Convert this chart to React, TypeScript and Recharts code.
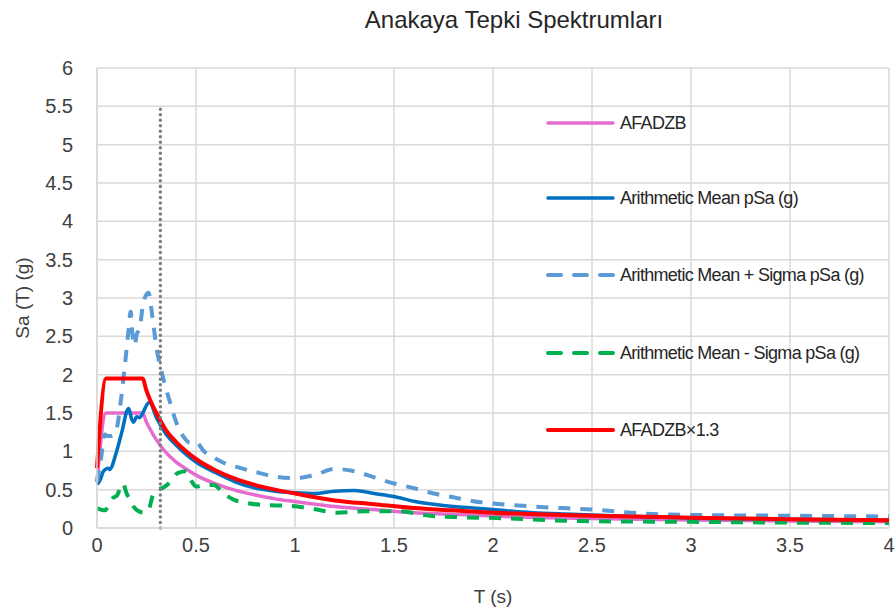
import { LineChart, Line, XAxis, YAxis, CartesianGrid, ReferenceLine } from "recharts";

// periods (s) and spectral accelerations (g)
const afadT = [0, 0.046, 0.23, 0.25, 0.27, 0.3, 0.35, 0.4, 0.45, 0.5, 0.6, 0.7, 0.8, 0.9, 1.0, 1.2, 1.4, 1.6, 1.8, 2.0, 2.5, 3.0, 3.5, 4.0];
const afadSa = [0.6, 1.5, 1.5, 1.38, 1.28, 1.15, 0.98, 0.86, 0.77, 0.69, 0.575, 0.49, 0.43, 0.38, 0.345, 0.28, 0.24, 0.2, 0.18, 0.155, 0.125, 0.105, 0.09, 0.08];
const afad13Sa = [0.78, 1.95, 1.95, 1.79, 1.66, 1.5, 1.27, 1.12, 1.0, 0.9, 0.75, 0.64, 0.56, 0.5, 0.45, 0.36, 0.31, 0.26, 0.23, 0.2, 0.16, 0.135, 0.115, 0.1];

const meanT = [0, 0.01, 0.02, 0.03, 0.04, 0.055, 0.065, 0.075, 0.09, 0.11, 0.13, 0.15, 0.16, 0.175, 0.185, 0.2, 0.215, 0.235, 0.25, 0.265, 0.3, 0.35, 0.4, 0.45, 0.5, 0.6, 0.7, 0.8, 0.9, 1.0, 1.1, 1.2, 1.3, 1.4, 1.5, 1.6, 1.7, 1.8, 1.9, 2.0, 2.2, 2.4, 2.6, 2.8, 3.0, 3.5, 4.0];
const meanSa = [0.57, 0.6, 0.65, 0.73, 0.76, 0.78, 0.76, 0.8, 0.92, 1.1, 1.3, 1.52, 1.56, 1.42, 1.38, 1.45, 1.44, 1.52, 1.6, 1.64, 1.44, 1.22, 1.08, 0.96, 0.86, 0.72, 0.6, 0.52, 0.48, 0.46, 0.45, 0.48, 0.49, 0.45, 0.41, 0.35, 0.31, 0.28, 0.26, 0.24, 0.2, 0.18, 0.16, 0.145, 0.13, 0.115, 0.1];

const plusT = [0, 0.02, 0.04, 0.055, 0.07, 0.085, 0.1, 0.12, 0.14, 0.16, 0.17, 0.18, 0.19, 0.2, 0.215, 0.235, 0.26, 0.28, 0.3, 0.33, 0.37, 0.4, 0.44, 0.47, 0.5, 0.54, 0.59, 0.65, 0.7, 0.8, 0.9, 1.0, 1.1, 1.2, 1.3, 1.4, 1.5, 1.6, 1.7, 1.8, 1.9, 2.0, 2.2, 2.5, 2.75, 3.0, 3.5, 4.0];
const plusSa = [0.6, 0.9, 1.22, 1.2, 1.2, 1.22, 1.3, 1.65, 2.1, 2.6, 2.82, 2.5, 2.38, 2.52, 2.6, 2.95, 3.07, 2.75, 2.36, 2.0, 1.63, 1.38, 1.18, 1.11, 1.12, 1.0, 0.92, 0.84, 0.8, 0.73, 0.67, 0.65, 0.69, 0.77, 0.74, 0.66, 0.58, 0.52, 0.45, 0.4, 0.35, 0.32, 0.28, 0.24, 0.19, 0.17, 0.16, 0.15];

const minusT = [0, 0.02, 0.04, 0.06, 0.08, 0.1, 0.13, 0.15, 0.17, 0.19, 0.21, 0.24, 0.26, 0.28, 0.3, 0.33, 0.37, 0.41, 0.45, 0.48, 0.5, 0.55, 0.59, 0.64, 0.69, 0.75, 0.84, 0.97, 1.09, 1.21, 1.36, 1.52, 1.68, 1.85, 2.02, 2.44, 3.0, 3.5, 4.0];
const minusSa = [0.26, 0.24, 0.23, 0.3, 0.39, 0.42, 0.58, 0.45, 0.35, 0.26, 0.22, 0.2, 0.23, 0.41, 0.5, 0.52, 0.6, 0.72, 0.74, 0.6, 0.54, 0.56, 0.56, 0.45, 0.37, 0.33, 0.3, 0.29, 0.25, 0.2, 0.22, 0.22, 0.16, 0.14, 0.13, 0.09, 0.08, 0.07, 0.065];

const cornerT = 0.32; // dotted marker
const cornerTop = 5.5;

const xTicks = [0, 0.5, 1, 1.5, 2, 2.5, 3, 3.5, 4];
const yTicks = [0, 0.5, 1, 1.5, 2, 2.5, 3, 3.5, 4, 4.5, 5, 5.5, 6];

const zip = (t: number[], v: number[]) => t.map((T, i) => ({ T, v: v[i] }));

const series = [
  { name: "AFADZB", data: zip(afadT, afadSa), color: "#E56CCF", width: 3.5, dash: undefined },
  { name: "ArithmeticMeanpSa(g)", data: zip(meanT, meanSa), color: "#0070C0", width: 3.5, dash: undefined },
  { name: "ArithmeticMean+SigmapSa(g)", data: zip(plusT, plusSa), color: "#5B9BD5", width: 4, dash: "12 10" },
  { name: "ArithmeticMean-SigmapSa(g)", data: zip(minusT, minusSa), color: "#00B050", width: 4, dash: "12 10" },
  { name: "AFADZB×1.3", data: zip(afadT, afad13Sa), color: "#FF0000", width: 4, dash: undefined },
];

const legendLabels = [
  "AFADZB",
  "Arithmetic Mean pSa (g)",
  "Arithmetic Mean + Sigma pSa (g)",
  "Arithmetic Mean - Sigma pSa (g)",
  "AFADZB×1.3",
];
const legendY = [123, 198, 275, 353, 430];

const tickStyle = { fontSize: 20, fill: "#404040", fontFamily: "Liberation Sans, Arial, sans-serif" };

export default function App() {
  return (
    <div style={{ position: "relative", width: 896, height: 616, background: "#fff", fontFamily: "Liberation Sans, Arial, sans-serif" }}>
      <style>{`body{margin:0}`}</style>
      <div style={{ position: "absolute", top: 6, left: 0, width: 1028, textAlign: "center", fontSize: 24, color: "#262626" }}>
        Anakaya Tepki Spektrumları
      </div>
      <LineChart width={896} height={616} data={series[0].data} margin={{ top: 68, right: 7, bottom: 0, left: 0 }}>
        <CartesianGrid stroke="#D9D9D9" strokeWidth={1.5} />
        <XAxis
          type="number"
          dataKey="T"
          domain={[0, 4]}
          ticks={xTicks}
          height={88}
          tick={tickStyle}
          tickLine={false}
          tickSize={0}
          tickMargin={10}
          axisLine={{ stroke: "#D9D9D9", strokeWidth: 1.5 }}
          allowDuplicatedCategory={false}
        />
        <YAxis
          type="number"
          domain={[0, 6]}
          ticks={yTicks}
          width={97}
          tick={tickStyle}
          tickLine={false}
          tickSize={0}
          tickMargin={24}
          axisLine={{ stroke: "#D9D9D9", strokeWidth: 1.5 }}
        />
        {series.map((s) => (
          <Line
            key={s.name}
            data={s.data}
            dataKey="v"
            name={s.name}
            type="monotone"
            stroke={s.color}
            strokeWidth={s.width}
            strokeDasharray={s.dash}
            dot={false}
            activeDot={false}
            isAnimationActive={false}
          />
        ))}
        <ReferenceLine
          segment={[{ x: cornerT, y: 0 }, { x: cornerT, y: cornerTop }]}
          stroke="#7F7F7F"
          strokeWidth={3.5}
          strokeDasharray="0.01 5.5"
          strokeLinecap="round"
        />
      </LineChart>
      <div style={{ position: "absolute", left: 0, top: 586, width: 986, textAlign: "center", fontSize: 19, color: "#404040" }}>
        T (s)
      </div>
      <div
        style={{
          position: "absolute",
          left: 23,
          top: 298,
          transform: "translate(-50%, -50%) rotate(-90deg)",
          whiteSpace: "nowrap",
          fontSize: 19,
          color: "#404040",
        }}
      >
        Sa (T) (g)
      </div>
      {series.map((s, i) => (
        <div key={s.name} style={{ position: "absolute", left: 546, top: legendY[i] - 12, height: 24, display: "flex", alignItems: "center" }}>
          <svg width={70} height={24}>
            <line x1={2} y1={12} x2={67} y2={12} stroke={s.color} strokeWidth={s.width} strokeDasharray={s.dash ? "13 13" : undefined} strokeLinecap="round" />
          </svg>
          <span style={{ marginLeft: 4, fontSize: 18, color: "#262626", whiteSpace: "nowrap", letterSpacing: -0.7 }}>{legendLabels[i]}</span>
        </div>
      ))}
    </div>
  );
}
